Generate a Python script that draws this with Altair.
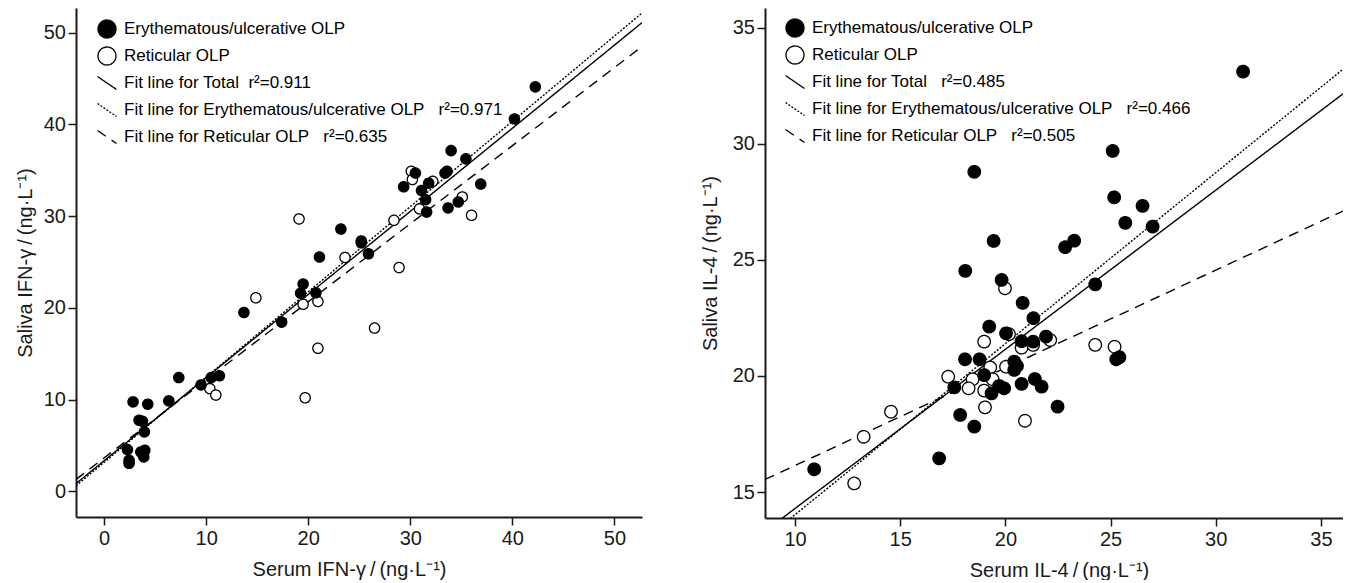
import altair as alt
import pandas as pd

FONT = "Liberation Sans"
INK = "#1a1a1a"

# ---------------- Left panel: IFN-gamma ----------------
L_eu_x = [2.84, 4.28, 3.43, 3.76, 3.95, 2.29, 2.45, 2.45, 3.6, 3.99, 3.89, 6.34, 7.32, 9.5, 10.5, 11.3,
          13.7, 17.4, 19.5, 19.25, 20.75, 21.1, 23.2, 25.2, 25.2, 25.9, 29.35, 30.5, 31.1, 31.8, 31.5,
          31.6, 33.4, 33.6, 34.0, 35.45, 36.9, 34.7, 33.7, 40.2, 42.25]
L_eu_y = [9.75, 9.5, 7.75, 7.64, 6.48, 4.55, 3.38, 3.05, 4.29, 4.48, 3.75, 9.86, 12.4, 11.6, 12.4, 12.6,
          19.5, 18.45, 22.6, 21.6, 21.65, 25.55, 28.6, 27.3, 27.1, 25.9, 33.2, 34.7, 32.8, 33.6, 31.8,
          30.45, 34.7, 34.9, 37.15, 36.25, 33.5, 31.55, 30.9, 40.6, 44.1]
L_ret_x = [10.36, 10.95, 14.87, 19.5, 20.95, 20.95, 19.7, 26.5, 30.1, 30.2, 32.2, 30.9, 35.1, 36.0,
           28.4, 23.6, 28.9, 19.1]
L_ret_y = [11.2, 10.5, 21.1, 20.4, 20.7, 15.6, 10.2, 17.8, 34.9, 34.0, 33.8, 30.8, 32.1, 30.1,
           29.55, 25.5, 24.4, 29.7]
L_x_domain = [-2.75, 52.7]
L_y_domain = [-2.8, 52.7]
L_fit_x = [-2.75, 52.7]
L_fit_total = [0.84, 51.1]
L_fit_eu = [0.6, 52.15]
L_fit_ret = [1.3, 48.5]
L_r2 = ["0.911", "0.971", "0.635"]
L_xticks = [0, 10, 20, 30, 40, 50]
L_yticks = [0, 10, 20, 30, 40, 50]

# ---------------- Right panel: IL-4 ----------------
R_eu_x = [18.52, 19.44, 18.09, 19.82, 20.82, 31.3, 25.1, 25.17, 26.52, 25.7, 27.0, 22.84, 23.27, 24.27,
          21.33, 20.03, 20.77, 21.32, 21.93, 25.42, 25.27, 20.42, 20.55, 20.42, 20.77, 21.4, 21.72,
          19.94, 22.48, 19.23, 18.08, 18.77, 18.99, 17.57, 19.34, 19.70, 17.85, 18.52, 16.85, 10.91]
R_eu_y = [28.8, 25.82, 24.53, 24.14, 23.15, 33.12, 29.7, 27.7, 27.33, 26.6, 26.44, 25.55, 25.83, 23.95,
          22.49, 21.84, 21.5, 21.48, 21.7, 20.81, 20.72, 20.62, 20.43, 20.26, 19.66, 19.87, 19.54,
          19.47, 18.68, 22.13, 20.72, 20.72, 20.04, 19.51, 19.25, 19.57, 18.32, 17.82, 16.45, 15.98]
R_ret_x = [19.98, 20.17, 20.77, 21.32, 22.13, 24.27, 25.19, 20.03, 20.93, 18.99, 19.28, 17.28, 18.44,
           18.25, 18.99, 19.39, 19.03, 14.56, 13.26, 12.81]
R_ret_y = [23.78, 21.8, 21.22, 21.34, 21.55, 21.34, 21.26, 20.4, 18.07, 21.48, 20.37, 19.97, 19.86,
           19.47, 19.37, 19.86, 18.65, 18.46, 17.38, 15.37]
R_x_domain = [8.57, 36.05]
R_y_domain = [13.88, 35.86]
R_fit_x = [8.57, 36.05]
R_fit_total = [13.31, 32.16]
R_fit_eu = [12.97, 33.22]
R_fit_ret = [15.54, 27.11]
R_r2 = ["0.485", "0.466", "0.505"]
R_xticks = [10, 15, 20, 25, 30, 35]
R_yticks = [15, 20, 25, 30, 35]

NB = "\u00a0"
LINE_PATH = "M-1.05,-0.72L1.05,0.72"
DASHES = [[1, 0], [1, 0], [1, 0], [2, 1.6], [10, 7]]


def panel(eu_x, eu_y, ret_x, ret_y, xdom, ydom, fit_x, fits, r2, xticks, yticks,
          xtitle, ytitle, width, height, pt_size, xtitle_x, ytitle_x, leg_x, leg_y, gaps):
    entries = [
        "Erythematous/ulcerative OLP",
        "Reticular OLP",
        "Fit line for Total" + NB * gaps[0] + " r\u00b2=" + r2[0],
        "Fit line for Erythematous/ulcerative OLP" + NB * gaps[1] + " r\u00b2=" + r2[1],
        "Fit line for Reticular OLP" + NB * gaps[2] + " r\u00b2=" + r2[2],
    ]
    pts = pd.DataFrame({
        "x": list(ret_x) + list(eu_x),
        "y": list(ret_y) + list(eu_y),
        "entry": [entries[1]] * len(ret_x) + [entries[0]] * len(eu_x),
    })
    rows = []
    for name, ys in zip(entries[2:], fits):
        for xv, yv in zip(fit_x, ys):
            rows.append({"x": xv, "y": yv, "entry": name})
    lns = pd.DataFrame(rows)

    xs = alt.Scale(domain=xdom, nice=False, zero=False)
    ys_ = alt.Scale(domain=ydom, nice=False, zero=False)
    xax = alt.Axis(values=xticks, title=xtitle, titleX=xtitle_x, titleY=58,
                   titleBaseline="alphabetic", tickSize=8, labelPadding=3)
    yax = alt.Axis(values=yticks, title=ytitle, titleX=ytitle_x, titleY=height / 2,
                   titleBaseline="alphabetic", tickSize=8, labelPadding=2.5)
    dash_scale = alt.Scale(domain=entries, range=DASHES)
    stroke_scale = alt.Scale(domain=entries, range=["black"] * 5)

    legend = alt.Legend(
        title=None, orient="none", legendX=leg_x, legendY=leg_y, padding=0,
        symbolSize=324, symbolStrokeWidth=1.3, symbolStrokeColor="black", symbolOpacity=1,
        labelFont=FONT, labelFontSize=17, labelColor="black", labelOffset=7,
        rowPadding=3, labelLimit=600, gridAlign="all",
    )

    lines = alt.Chart(lns).mark_line(clip=True, color="black", strokeWidth=1.4).encode(
        x=alt.X("x:Q", scale=xs, axis=xax),
        y=alt.Y("y:Q", scale=ys_, axis=yax),
        strokeDash=alt.StrokeDash("entry:N", scale=dash_scale, legend=legend),
        stroke=alt.Stroke("entry:N", scale=stroke_scale, legend=legend),
    )

    points = alt.Chart(pts).mark_point(strokeWidth=1.3, size=pt_size,
                                       opacity=1, fillOpacity=1).encode(
        x="x:Q",
        y="y:Q",
        shape=alt.Shape("entry:N", scale=alt.Scale(domain=entries,
                        range=["circle", "circle", LINE_PATH, LINE_PATH, LINE_PATH]), legend=legend),
        fill=alt.Fill("entry:N", scale=alt.Scale(domain=entries,
                      range=["black", "white", "transparent", "transparent", "transparent"]), legend=legend),
        stroke=alt.Stroke("entry:N", scale=stroke_scale, legend=legend),
        strokeDash=alt.StrokeDash("entry:N", scale=dash_scale, legend=legend),
    )
    return alt.layer(lines, points).properties(width=width, height=height)


left = panel(L_eu_x, L_eu_y, L_ret_x, L_ret_y, L_x_domain, L_y_domain, L_fit_x,
             [L_fit_total, L_fit_eu, L_fit_ret], L_r2, L_xticks, L_yticks,
             "Serum IFN-\u03b3\u2009/\u2009(ng\u00b7L\u207b\u00b9)",
             "Saliva IFN-\u03b3\u2009/\u2009(ng\u00b7L\u207b\u00b9)",
             566, 509, 105, 273, -45, 21, 11, [1, 2, 2])
right = panel(R_eu_x, R_eu_y, R_ret_x, R_ret_y, R_x_domain, R_y_domain, R_fit_x,
              [R_fit_total, R_fit_eu, R_fit_ret], R_r2, R_xticks, R_yticks,
              "Serum IL-4\u2009/\u2009(ng\u00b7L\u207b\u00b9)",
              "Saliva IL-4\u2009/\u2009(ng\u00b7L\u207b\u00b9)",
              578, 510, 155, 294, -49, 20, 10, [2, 2, 2])

chart = alt.hconcat(left, right, spacing=58).resolve_scale(
    shape="independent", fill="independent", strokeDash="independent", stroke="independent"
).resolve_legend(
    shape="independent", fill="independent", strokeDash="independent", stroke="independent"
).properties(
    padding={"left": 7, "top": 0, "right": 0, "bottom": 0}
).configure_view(stroke=None).configure_axis(
    grid=False, domainColor=INK, domainWidth=2, tickColor=INK, tickWidth=1.5,
    labelFont=FONT, labelFontSize=20, labelColor=INK,
    titleFont=FONT, titleFontSize=20, titleColor=INK, titleFontWeight="normal",
)

chart.save("out.html", embed_options={"renderer": "svg", "actions": False})
